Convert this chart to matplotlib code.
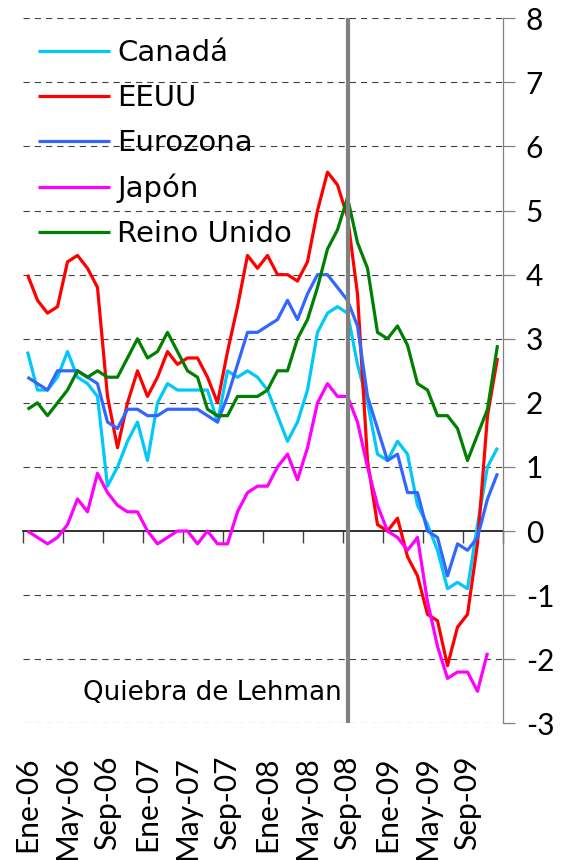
import numpy as np
import matplotlib
matplotlib.use("Agg")
import matplotlib.pyplot as plt
import matplotlib.transforms as mtransforms

plt.rcParams['font.family'] = ['Lato', 'DejaVu Sans']
plt.rcParams['lines.scale_dashes'] = False

# ---- data (monthly inflation, Jan-2006 .. Dec-2009) ----
n_months = 48
tick_labels = ['Ene-06', 'May-06', 'Sep-06', 'Ene-07', 'May-07', 'Sep-07',
               'Ene-08', 'May-08', 'Sep-08', 'Ene-09', 'May-09', 'Sep-09']
tick_every = 4

canada = [2.8, 2.2, 2.2, 2.4, 2.8, 2.4, 2.3, 2.1, 0.7, 1.0, 1.4, 1.7,
          1.1, 2.0, 2.3, 2.2, 2.2, 2.2, 2.2, 1.7, 2.5, 2.4, 2.5, 2.4,
          2.2, 1.8, 1.4, 1.7, 2.2, 3.1, 3.4, 3.5, 3.4, 2.6, 2.0, 1.2,
          1.1, 1.4, 1.2, 0.4, 0.1, -0.3, -0.9, -0.8, -0.9, 0.1, 1.0, 1.3]
eeuu = [4.0, 3.6, 3.4, 3.5, 4.2, 4.3, 4.1, 3.8, 2.1, 1.3, 2.0, 2.5,
        2.1, 2.4, 2.8, 2.6, 2.7, 2.7, 2.4, 2.0, 2.8, 3.5, 4.3, 4.1,
        4.3, 4.0, 4.0, 3.9, 4.2, 5.0, 5.6, 5.4, 4.9, 3.7, 1.1, 0.1,
        0.0, 0.2, -0.4, -0.7, -1.3, -1.4, -2.1, -1.5, -1.3, -0.2, 1.8, 2.7]
eurozona = [2.4, 2.3, 2.2, 2.5, 2.5, 2.5, 2.4, 2.3, 1.7, 1.6, 1.9, 1.9,
            1.8, 1.8, 1.9, 1.9, 1.9, 1.9, 1.8, 1.7, 2.1, 2.6, 3.1, 3.1,
            3.2, 3.3, 3.6, 3.3, 3.7, 4.0, 4.0, 3.8, 3.6, 3.2, 2.1, 1.6,
            1.1, 1.2, 0.6, 0.6, 0.0, -0.1, -0.7, -0.2, -0.3, -0.1, 0.5, 0.9]
japon = [0.0, -0.1, -0.2, -0.1, 0.1, 0.5, 0.3, 0.9, 0.6, 0.4, 0.3, 0.3,
         0.0, -0.2, -0.1, 0.0, 0.0, -0.2, 0.0, -0.2, -0.2, 0.3, 0.6, 0.7,
         0.7, 1.0, 1.2, 0.8, 1.3, 2.0, 2.3, 2.1, 2.1, 1.7, 1.0, 0.4,
         0.0, -0.1, -0.3, -0.1, -1.1, -1.8, -2.3, -2.2, -2.2, -2.5, -1.9, np.nan]
reino_unido = [1.9, 2.0, 1.8, 2.0, 2.2, 2.5, 2.4, 2.5, 2.4, 2.4, 2.7, 3.0,
               2.7, 2.8, 3.1, 2.8, 2.5, 2.4, 1.9, 1.8, 1.8, 2.1, 2.1, 2.1,
               2.2, 2.5, 2.5, 3.0, 3.3, 3.8, 4.4, 4.7, 5.2, 4.5, 4.1, 3.1,
               3.0, 3.2, 2.9, 2.3, 2.2, 1.8, 1.8, 1.6, 1.1, 1.5, 1.9, 2.9]

series_names = ['Canadá', 'EEUU', 'Eurozona', 'Japón', 'Reino Unido']
series_values = [canada, eeuu, eurozona, japon, reino_unido]
series_colors = ['#00C8F8', '#FF0000', '#3366FF', '#FF00FF', '#008000']

lehman_index = 32          # Sep-08
lehman_text = 'Quiebra de Lehman'
y_ticks = list(range(-3, 9))

# ---- figure ----
W, H = 561, 860
fig = plt.figure(figsize=(W / 100, H / 100), dpi=100)
left_px, right_px, top_px, bottom_px = 22.5, 502.5, 18.3, 723.3
ax = fig.add_axes([left_px / W, (H - bottom_px) / H,
                   (right_px - left_px) / W, (bottom_px - top_px) / H])

x = np.arange(n_months)
ax.set_xlim(-0.5, n_months - 0.5)
ax.set_ylim(min(y_ticks), max(y_ticks))

# gridlines
for yv in y_ticks:
    if yv == 0:
        continue
    ax.axhline(yv, color='#404040', lw=0.8, ls=(0, (4.5, 3.6)), zorder=1)

for name, vals, col in zip(series_names, series_values, series_colors):
    ax.plot(x, vals, color=col, lw=2.3, label=name, zorder=3,
            solid_joinstyle='round', solid_capstyle='butt')

# Lehman line
ax.axvline(lehman_index, color='#808080', lw=3.0, zorder=4)
ax.text(lehman_index - 0.6, -2.63, lehman_text, ha='right', va='baseline',
        fontsize=18.8, color='black', zorder=5, family=['DejaVu Sans'])

# spines
for s in ['left', 'top']:
    ax.spines[s].set_visible(False)
ax.spines['right'].set_color('#808080')
ax.spines['right'].set_linewidth(0.9)
ax.spines['bottom'].set_position(('data', 0))
ax.spines['bottom'].set_color('#202020')
ax.spines['bottom'].set_linewidth(1.3)
ax.spines['bottom'].set_zorder(2)

# y axis on the right
ax.yaxis.tick_right()
ax.set_yticks(y_ticks)
ax.set_yticklabels([str(v) for v in y_ticks])
ax.tick_params(axis='y', which='major', direction='out', length=8.8,
               width=0.9, color='#808080', pad=8, labelsize=21.5)

# x ticks at category boundaries, labels placed at the bottom
ax.set_xticks(np.arange(-0.5, n_months, tick_every))
ax.set_xticklabels([])
ax.tick_params(axis='x', which='major', direction='out', length=8.4,
               width=1.0, color='#404040')

trans = mtransforms.blended_transform_factory(ax.transData, fig.transFigure)
for k, lab in enumerate(tick_labels):
    ax.text(k * tick_every, (H - 756) / H, lab, rotation=90, ha='center',
            va='top', fontsize=21.5, transform=trans)

leg = ax.legend(loc='upper left', bbox_to_anchor=((38.3 - left_px) / (right_px - left_px),
                                                  (bottom_px - 39) / (bottom_px - top_px)),
                frameon=False, handlelength=2.45, handletextpad=0.25,
                labelspacing=0.58, borderaxespad=0, borderpad=0,
                prop={'family': ['DejaVu Sans'], 'size': 21})
for line in leg.get_lines():
    line.set_linewidth(2.3)

fig.savefig('out.png', dpi=100)
